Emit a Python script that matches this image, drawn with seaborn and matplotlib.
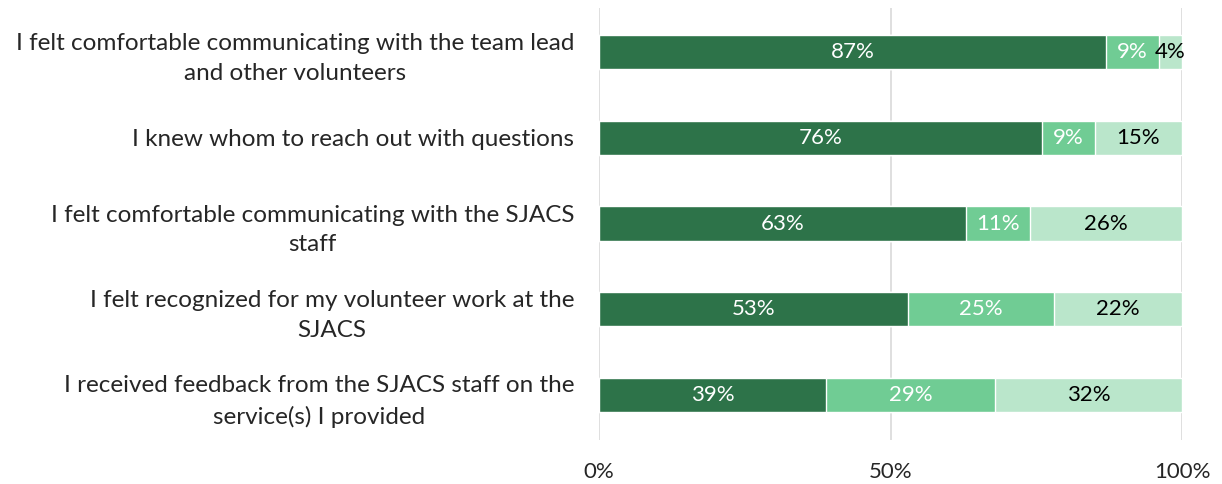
import matplotlib
matplotlib.use("Agg")
import matplotlib.pyplot as plt
import numpy as np
import pandas as pd
import seaborn as sns

statements = [
    "I felt comfortable communicating with the team lead\nand other volunteers",
    "I knew whom to reach out with questions",
    "I felt comfortable communicating with the SJACS\nstaff",
    "I felt recognized for my volunteer work at the\nSJACS",
    "I received feedback from the SJACS staff on the\nservice(s) I provided",
]
agree = [87, 76, 63, 53, 39]
neutral = [9, 9, 11, 25, 29]
disagree = [4, 15, 26, 22, 32]
x_ticks = [0, 50, 100]
x_tick_labels = ["0%", "50%", "100%"]

dark = "#2D7349"
mid = "#70CC94"
light = "#BAE6CB"

sns.set_theme(style="white")
plt.rcParams["font.family"] = ["Lato", "DejaVu Sans"]

df = pd.DataFrame({
    "statement": statements,
    "agree": agree,
    "neutral": neutral,
    "disagree": disagree,
})
df["cum_mid"] = df["agree"] + df["neutral"]
df["cum_all"] = df["cum_mid"] + df["disagree"]

fig = plt.figure(figsize=(12.22, 4.84), dpi=100)
ax = fig.add_axes([0.4902, 0.0909, 0.4771, 0.8926])

for x in x_ticks:
    ax.axvline(x, color="#DCDCDC", lw=1.3, zorder=0)

# stacked bars drawn as overlapping cumulative totals
for col, color in [("cum_all", light), ("cum_mid", mid), ("agree", dark)]:
    sns.barplot(data=df, x=col, y="statement", orient="h", color=color,
                width=0.40, ax=ax, saturation=1, zorder=2)

fs = 16
for i in range(len(statements)):
    a, n, d = agree[i], neutral[i], disagree[i]
    ax.text(a / 2, i, f"{a}%", ha="center", va="center", color="white", fontsize=fs, zorder=3)
    ax.text(a + n / 2, i, f"{n}%", ha="center", va="center", color="white", fontsize=fs, zorder=3)
    ax.text(a + n + d / 2, i, f"{d}%", ha="center", va="center", color="black", fontsize=fs, zorder=3)

ax.set_xlim(0, 100)
ax.set_ylim(4.525, -0.515)
ax.set_xticks(x_ticks)
ax.set_xticklabels(x_tick_labels, fontsize=fs)
ax.set_xlabel("")
ax.set_ylabel("")
ax.tick_params(axis="x", length=0, pad=16)
ax.tick_params(axis="y", length=0, pad=18, labelsize=17.5)
for lbl in ax.get_yticklabels():
    lbl.set_multialignment("center")
    lbl.set_linespacing(1.5)
for s in ax.spines.values():
    s.set_visible(False)

fig.savefig("out.png", dpi=100, facecolor="white")
